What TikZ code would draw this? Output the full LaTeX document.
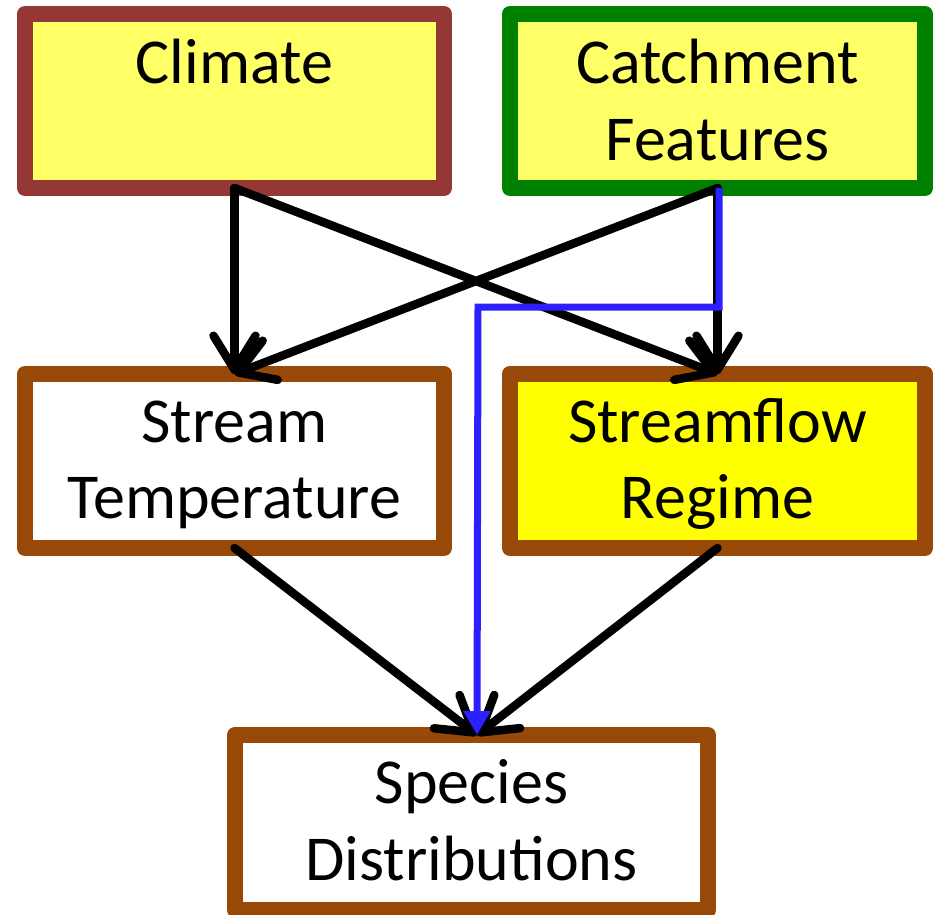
\documentclass[tikz,border=0pt]{standalone}
\usepackage{fontspec}
\setmainfont{Carlito}
\usetikzlibrary{arrows.meta}
\definecolor{climbrd}{HTML}{953735}
\definecolor{catchbrd}{HTML}{008000}
\definecolor{brownbrd}{HTML}{984807}
\definecolor{paleyel}{HTML}{FFFF66}
\definecolor{fullyel}{HTML}{FFFF00}
\definecolor{flowblue}{HTML}{2B20FF}
\begin{document}
\begin{tikzpicture}[x=1pt,y=-1pt,
  box/.style={rectangle, line width=16pt, line join=round, outer sep=0pt, inner sep=0pt},
  lbl/.style={font=\fontsize{64}{77}\selectfont, anchor=base, inner sep=0pt},
  link/.style={line width=8.5pt, line cap=round, -{Straight Barb[length=34pt,width=42pt,round]}},
  flow/.style={draw=flowblue, line width=7pt, -{Triangle[length=24pt,width=26pt]}}]
\useasboundingbox (0,0) rectangle (934,914);

% boxes
\node[box, draw=climbrd, fill=paleyel, minimum width=419pt, minimum height=174pt] (clim) at (234.5,101) {};
\node[box, draw=catchbrd, fill=paleyel, minimum width=415pt, minimum height=174pt] (catch) at (717.5,101) {};
\node[box, draw=brownbrd, fill=white, minimum width=419pt, minimum height=174pt] (temp) at (234.5,461) {};
\node[box, draw=brownbrd, fill=fullyel, minimum width=415pt, minimum height=174pt] (flowreg) at (717.5,461) {};
\node[box, draw=brownbrd, fill=white, minimum width=473pt, minimum height=175pt] (spec) at (471.5,822.5) {};

% labels
\node[lbl] (climtxt) at (234.5,83) {Climate};
\node[lbl] (catchtxta) at (717.5,83) {Catchment};
\node[lbl] (catchtxtb) at (717.5,160) {Features};
\node[lbl] (temptxta) at (234.5,442) {Stream};
\node[lbl] (temptxtb) at (234.5,518) {Temperature};
\node[lbl] (flowtxta) at (717.5,442) {Streamflow};
\node[lbl] (flowtxtb) at (717.5,518) {Regime};
\node[lbl] (spectxta) at (471.5,803) {Species};
\node[lbl] (spectxtb) at (471.5,880) {Distributions};

% connectors
\coordinate (spectop) at (477,735);
\coordinate (bendr) at (719,307);
\coordinate (bendl) at (478,307);
\draw[link] (clim.south) -- (temp.north);
\draw[link] (clim.south) -- (flowreg.north);
\draw[link] (catch.south) -- (temp.north);
\draw[link] (catch.south) -- (flowreg.north);
\draw[link] (temp.south) -- (spectop);
\draw[link] (flowreg.south) -- (spectop);
\draw[flow] ([xshift=1.5pt]catch.south) -- (bendr) -- (bendl) -- (spectop);
\end{tikzpicture}
\end{document}
